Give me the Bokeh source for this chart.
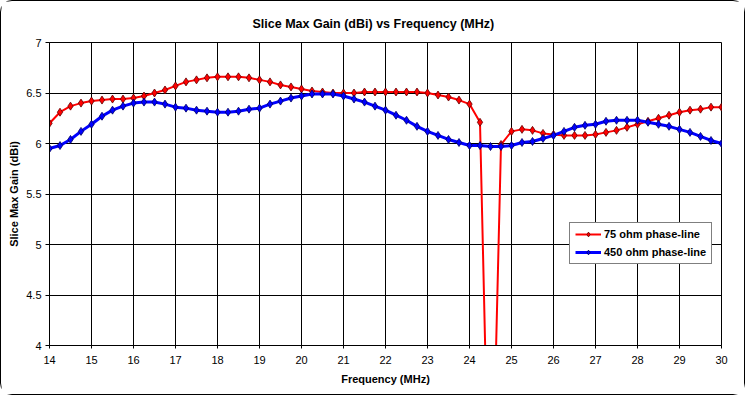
from bokeh.plotting import figure
from bokeh.models import Range1d, FixedTicker, Legend, LegendItem
from bokeh.embed import file_html
from bokeh.resources import INLINE

# ---- data ----
freq_mhz = [14.0, 14.25, 14.5, 14.75, 15.0, 15.25, 15.5, 15.75, 16.0, 16.25, 16.5, 16.75,
            17.0, 17.25, 17.5, 17.75, 18.0, 18.25, 18.5, 18.75, 19.0, 19.25, 19.5, 19.75,
            20.0, 20.25, 20.5, 20.75, 21.0, 21.25, 21.5, 21.75, 22.0, 22.25, 22.5, 22.75,
            23.0, 23.25, 23.5, 23.75, 24.0, 24.25, 24.5, 24.75, 25.0, 25.25, 25.5, 25.75,
            26.0, 26.25, 26.5, 26.75, 27.0, 27.25, 27.5, 27.75, 28.0, 28.25, 28.5, 28.75,
            29.0, 29.25, 29.5, 29.75, 30.0]

gain_75ohm = [6.20, 6.31, 6.37, 6.40, 6.42, 6.43, 6.44, 6.44, 6.45, 6.47, 6.50, 6.53,
              6.57, 6.61, 6.63, 6.65, 6.66, 6.66, 6.66, 6.65, 6.63, 6.61, 6.58, 6.56,
              6.54, 6.52, 6.51, 6.50, 6.50, 6.50, 6.51, 6.51, 6.51, 6.51, 6.51, 6.51,
              6.50, 6.48, 6.46, 6.43, 6.39, 6.21, 1.70, 5.99, 6.12, 6.14, 6.13, 6.10,
              6.09, 6.08, 6.08, 6.08, 6.09, 6.11, 6.13, 6.16, 6.19, 6.22, 6.25, 6.28,
              6.31, 6.33, 6.34, 6.36, 6.36]

gain_450ohm = [5.95, 5.98, 6.04, 6.12, 6.19, 6.27, 6.33, 6.37, 6.40, 6.41, 6.41, 6.39,
               6.36, 6.35, 6.33, 6.32, 6.31, 6.31, 6.32, 6.34, 6.35, 6.39, 6.42, 6.45,
               6.47, 6.49, 6.49, 6.49, 6.47, 6.44, 6.41, 6.37, 6.33, 6.28, 6.23, 6.17,
               6.12, 6.08, 6.04, 6.01, 5.98, 5.98, 5.97, 5.97, 5.98, 6.01, 6.02, 6.05,
               6.08, 6.12, 6.16, 6.18, 6.19, 6.22, 6.23, 6.23, 6.23, 6.21, 6.19, 6.17,
               6.14, 6.11, 6.07, 6.03, 6.00]

x_ticks = [14, 15, 16, 17, 18, 19, 20, 21, 22, 23, 24, 25, 26, 27, 28, 29, 30]
y_ticks = [4, 4.5, 5, 5.5, 6, 6.5, 7]
y_tick_labels = ["4", "4.5", "5", "5.5", "6", "6.5", "7"]

title_text = "Slice Max Gain (dBi)  vs  Frequency (MHz)"
x_title = "Frequency (MHz)"
y_title = "Slice Max Gain (dBi)"
series_names = ["75 ohm phase-line", "450 ohm phase-line"]

FONT = "Liberation Sans"

p = figure(width=745, height=395, output_backend="svg", toolbar_location=None,
           x_range=Range1d(14, 30), y_range=Range1d(4, 7),
           min_border_left=48, min_border_right=25, min_border_top=41,
           min_border_bottom=51)
p.styles = {"border": "1px solid #000", "border-radius": "12px", "box-sizing": "border-box"}

p.title.text = title_text
p.title.align = "left"
p.title.offset = 203
p.title.text_font = FONT
p.title.text_font_size = "12.5px"
p.title.text_font_style = "bold"
p.title.text_color = "black"
p.title.standoff = 23

p.background_fill_color = "white"
p.border_fill_color = "white"
p.outline_line_color = "black"
p.outline_line_width = 1

for g in (p.xgrid, p.ygrid):
    g.grid_line_color = "black"
    g.grid_line_alpha = 1.0
    g.grid_line_width = 1

p.xaxis.ticker = FixedTicker(ticks=x_ticks)
p.yaxis.ticker = FixedTicker(ticks=y_ticks)
p.yaxis.major_label_overrides = {t: l for t, l in zip(y_ticks, y_tick_labels)}

for ax in (p.xaxis, p.yaxis):
    ax.axis_line_color = "black"
    ax.major_tick_line_color = "black"
    ax.minor_tick_line_color = None
    ax.major_tick_in = 0
    ax.major_label_text_font = FONT
    ax.major_label_text_font_size = "11px"
    ax.major_label_text_color = "black"
    ax.axis_label_text_font = FONT
    ax.axis_label_text_font_size = "11px"
    ax.axis_label_text_font_style = "bold"
    ax.axis_label_text_color = "black"

p.xaxis.major_tick_out = 3
p.yaxis.major_tick_out = 4
p.xaxis.major_label_standoff = 7
p.yaxis.major_label_standoff = 4
p.xaxis.axis_label = x_title
p.yaxis.axis_label = y_title
p.xaxis.axis_label_standoff = 6
p.yaxis.axis_label_standoff = 3

r_line = p.line(freq_mhz, gain_75ohm, line_color="#ff0000", line_width=2)
r_pts = p.scatter(freq_mhz, gain_75ohm, marker="diamond", size=8,
                  fill_color="#ff0000", line_color="#600000", line_width=0.8)
b_line = p.line(freq_mhz, gain_450ohm, line_color="#0000ff", line_width=3)
b_pts = p.scatter(freq_mhz, gain_450ohm, marker="diamond", size=8,
                  fill_color="#0000ff", line_color="#000060", line_width=0.8)

legend = Legend(items=[LegendItem(label=series_names[0], renderers=[r_line, r_pts]),
                       LegendItem(label=series_names[1], renderers=[b_line, b_pts])],
                location=(520, 81))
legend.label_text_font = FONT
legend.label_text_font_size = "11px"
legend.label_text_font_style = "bold"
legend.label_text_color = "black"
legend.border_line_color = "black"
legend.border_line_width = 1
legend.background_fill_color = "white"
legend.background_fill_alpha = 1
legend.glyph_width = 26
legend.glyph_height = 12
legend.label_standoff = 3
legend.spacing = 6
legend.padding = 5
legend.margin = 0
legend.label_height = 12
p.add_layout(legend, "center")

open("out.html", "w").write(file_html(p, INLINE))
